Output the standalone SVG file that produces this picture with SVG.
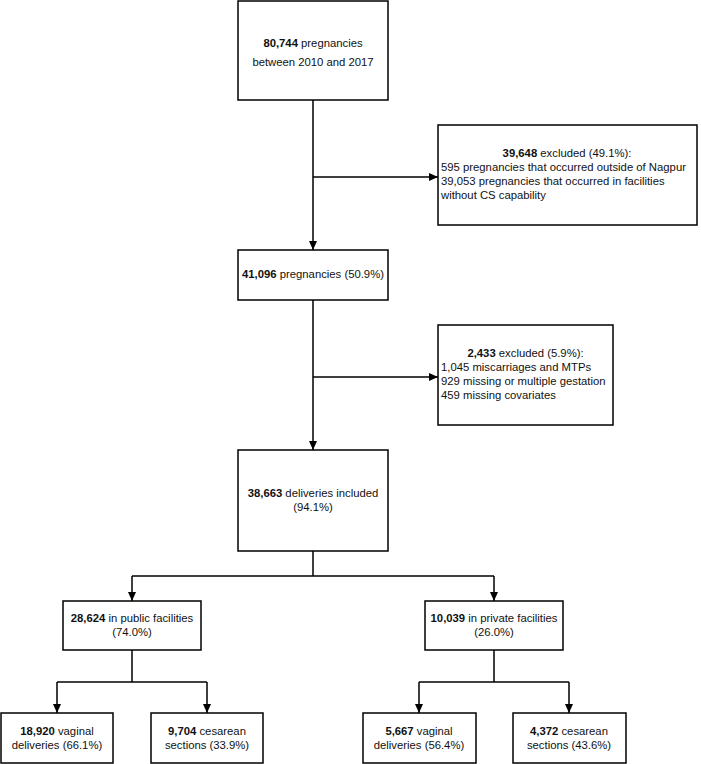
<svg xmlns="http://www.w3.org/2000/svg" width="701" height="764" viewBox="0 0 701 764">
<style>
.box{fill:#fff;stroke:#000;stroke-width:1.5}
.t{font-family:"Liberation Sans",Arial,sans-serif;font-size:11.3px;fill:#111}
.c{text-anchor:middle}
.b{font-weight:bold}
.ln{fill:none;stroke:#000;stroke-width:1.5}
</style>
<defs>
<marker id="ah" markerWidth="10" markerHeight="10" refX="9" refY="4" orient="auto" markerUnits="userSpaceOnUse">
<path d="M0,0 L9,4 L0,8 Z" fill="#000"/>
</marker>
</defs>
<rect width="701" height="764" fill="#fff"/>
<g id="connectors">
<path class="ln" d="M313,100 V250" marker-end="url(#ah)"/>
<path class="ln" d="M313,177 H438" marker-end="url(#ah)"/>
<path class="ln" d="M313,300 V450" marker-end="url(#ah)"/>
<path class="ln" d="M313,377 H438" marker-end="url(#ah)"/>
<path class="ln" d="M313,551 V576"/>
<path class="ln" d="M132,576 H494"/>
<path class="ln" d="M132,576 V601" marker-end="url(#ah)"/>
<path class="ln" d="M494,576 V601" marker-end="url(#ah)"/>
<path class="ln" d="M132,650 V682"/>
<path class="ln" d="M57,682 H207"/>
<path class="ln" d="M57,682 V713" marker-end="url(#ah)"/>
<path class="ln" d="M207,682 V713" marker-end="url(#ah)"/>
<path class="ln" d="M494,650 V682"/>
<path class="ln" d="M419,682 H569"/>
<path class="ln" d="M419,682 V713" marker-end="url(#ah)"/>
<path class="ln" d="M569,682 V713" marker-end="url(#ah)"/>
</g>
<g id="n1">
<rect class="box" x="238" y="1" width="150" height="99"/>
<text class="t c" x="313" y="47"><tspan class="b">80,744</tspan> pregnancies</text>
<text class="t c" x="313" y="66">between 2010 and 2017</text>
</g>
<g id="ex1">
<rect class="box" x="438" y="125" width="259" height="100"/>
<text class="t c" x="567" y="157"><tspan class="b">39,648</tspan> excluded (49.1%):</text>
<text class="t" x="441" y="171">595 pregnancies that occurred outside of Nagpur</text>
<text class="t" x="441" y="185">39,053 pregnancies that occurred in facilities</text>
<text class="t" x="441" y="199">without CS capability</text>
</g>
<g id="n2">
<rect class="box" x="238" y="250" width="150" height="50"/>
<text class="t c" x="313" y="278"><tspan class="b">41,096</tspan> pregnancies (50.9%)</text>
</g>
<g id="ex2">
<rect class="box" x="438" y="325" width="175" height="100"/>
<text class="t c" x="525.5" y="357"><tspan class="b">2,433</tspan> excluded (5.9%):</text>
<text class="t" x="441" y="371">1,045 miscarriages and MTPs</text>
<text class="t" x="441" y="385">929 missing or multiple gestation</text>
<text class="t" x="441" y="399">459 missing covariates</text>
</g>
<g id="n3">
<rect class="box" x="238" y="450" width="150" height="101"/>
<text class="t c" x="313" y="497"><tspan class="b">38,663</tspan> deliveries included</text>
<text class="t c" x="313" y="511">(94.1%)</text>
</g>
<g id="pub">
<rect class="box" x="63" y="601" width="138" height="49"/>
<text class="t c" x="132" y="622"><tspan class="b">28,624</tspan> in public facilities</text>
<text class="t c" x="132" y="636">(74.0%)</text>
</g>
<g id="priv">
<rect class="box" x="425" y="601" width="138" height="49"/>
<text class="t c" x="494" y="622"><tspan class="b">10,039</tspan> in private facilities</text>
<text class="t c" x="494" y="636">(26.0%)</text>
</g>
<g id="pubvag">
<rect class="box" x="1" y="713" width="112" height="50"/>
<text class="t c" x="57" y="735"><tspan class="b">18,920</tspan> vaginal</text>
<text class="t c" x="57" y="749">deliveries (66.1%)</text>
</g>
<g id="pubcs">
<rect class="box" x="151" y="713" width="112" height="50"/>
<text class="t c" x="207" y="735"><tspan class="b">9,704</tspan> cesarean</text>
<text class="t c" x="207" y="749">sections (33.9%)</text>
</g>
<g id="privvag">
<rect class="box" x="363" y="713" width="113" height="50"/>
<text class="t c" x="419" y="735"><tspan class="b">5,667</tspan> vaginal</text>
<text class="t c" x="419" y="749">deliveries (56.4%)</text>
</g>
<g id="privcs">
<rect class="box" x="513" y="713" width="113" height="50"/>
<text class="t c" x="569" y="735"><tspan class="b">4,372</tspan> cesarean</text>
<text class="t c" x="569" y="749">sections (43.6%)</text>
</g>
</svg>
